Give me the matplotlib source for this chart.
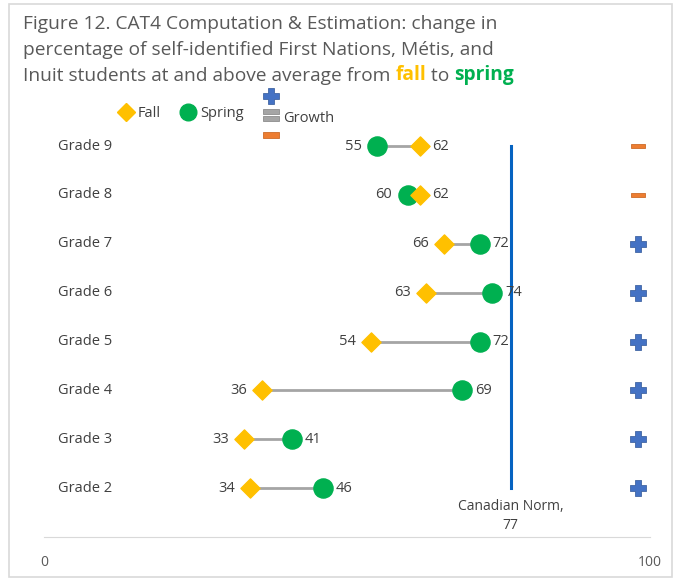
import matplotlib.pyplot as plt
from matplotlib.lines import Line2D
from matplotlib.patches import Rectangle
from matplotlib.path import Path
from matplotlib.legend_handler import HandlerBase

plt.rcParams['font.family'] = ['Open Sans', 'DejaVu Sans']

grades = ["Grade 2", "Grade 3", "Grade 4", "Grade 5", "Grade 6", "Grade 7", "Grade 8", "Grade 9"]
fall = [34, 33, 36, 54, 63, 66, 62, 62]
spring = [46, 41, 69, 72, 74, 72, 60, 55]
growth = ["+", "+", "+", "+", "+", "+", "-", "-"]
canadian_norm = 77
growth_x = 98

txt_col = "#404040"
fall_col = "#FFC000"
spring_col = "#00B050"
plus_col = "#4472C4"
minus_col = "#ED7D31"

# custom markers for the growth column
minus_mark = Path([(-1, -0.35), (1, -0.35), (1, 0.35), (-1, 0.35), (-1, -0.35)],
                  [Path.MOVETO, Path.LINETO, Path.LINETO, Path.LINETO, Path.CLOSEPOLY])
eq_mark = Path([(-1, 0.15), (1, 0.15), (1, 0.75), (-1, 0.75), (-1, 0.15),
                (-1, -0.75), (1, -0.75), (1, -0.15), (-1, -0.15), (-1, -0.75)],
               [Path.MOVETO, Path.LINETO, Path.LINETO, Path.LINETO, Path.CLOSEPOLY,
                Path.MOVETO, Path.LINETO, Path.LINETO, Path.LINETO, Path.CLOSEPOLY])

fig = plt.figure(figsize=(6.78, 5.79), dpi=100)
fig.patches.append(Rectangle((0.0133, 0.0035), 0.978, 0.9896, transform=fig.transFigure,
                             fill=False, edgecolor="#D9D9D9", linewidth=1.2))
ax = fig.add_axes([0.0649, 0.0725, 0.8938, 0.7173])

ypos = list(range(1, len(grades) + 1))

for i in range(len(grades)):
    ax.plot([fall[i], spring[i]], [ypos[i], ypos[i]], color="#A5A5A5", lw=2, zorder=1)

ax.scatter(fall, ypos, marker="D", s=95, color=fall_col, zorder=3)
ax.scatter(spring, ypos, marker="o", s=190, color=spring_col, zorder=2)

for i in range(len(grades)):
    lo, hi = min(fall[i], spring[i]), max(fall[i], spring[i])
    ax.annotate(str(lo), (lo, ypos[i]), xytext=(-11, 0), textcoords="offset points",
                ha="right", va="center", fontsize=10.5, color=txt_col)
    ax.annotate(str(hi), (hi, ypos[i]), xytext=(9, 0), textcoords="offset points",
                ha="left", va="center", fontsize=10.5, color=txt_col)
    ax.text(2.3, ypos[i], grades[i], ha="left", va="center", fontsize=10.5, color=txt_col)
    if growth[i] == "+":
        ax.scatter(growth_x, ypos[i], marker="P", s=130, color=plus_col,
                   edgecolor="#2F5597", linewidth=0.5, zorder=3)
    else:
        ax.scatter(growth_x, ypos[i], marker=minus_mark, s=100, color=minus_col,
                   edgecolor="#C55A11", linewidth=0.5, zorder=3)

# Canadian norm line
ax.plot([canadian_norm, canadian_norm], [1, 8], color="#0563C1", lw=2.2, zorder=1)
ax.annotate("Canadian Norm,\n77", (canadian_norm, 1), xytext=(0, -8), textcoords="offset points",
            ha="center", va="top", fontsize=10, color=txt_col, linespacing=1.35)

ax.set_xlim(0, 100)
ax.set_ylim(0, 8.5)
ax.set_xticks([0, 100])
ax.set_yticks([])
for s in ["top", "right", "left"]:
    ax.spines[s].set_visible(False)
ax.spines["bottom"].set_color("#D9D9D9")
ax.tick_params(axis="x", length=0, labelsize=10, labelcolor="#595959", pad=13)


class GrowthHandler(HandlerBase):
    def create_artists(self, legend, orig, xd, yd, w, h, fontsize, trans):
        cx = xd + w / 2
        cy = yd + h / 2 - 2.5
        arts = []
        for dy, mk, c, ec in [(14, "P", plus_col, "#2F5597"), (0, eq_mark, "#A5A5A5", "#7F7F7F"),
                              (-14, minus_mark, minus_col, "#C55A11")]:
            ln = Line2D([cx], [cy + dy], marker=mk, markersize=11, color=c,
                        markeredgecolor=ec, markeredgewidth=0.5, linestyle="none")
            ln.set_transform(trans)
            arts.append(ln)
        return arts


h_fall = Line2D([], [], marker="D", color=fall_col, markersize=9, linestyle="none")
h_spring = Line2D([], [], marker="o", color=spring_col, markersize=12, linestyle="none")
h_growth = Line2D([], [])
leg = fig.legend([h_fall, h_spring, h_growth], ["Fall", "Spring", "Growth"],
                 handler_map={h_growth: GrowthHandler()}, ncol=3, frameon=False,
                 loc="center left", bbox_to_anchor=(0.155, 0.804),
                 fontsize=10.5, handlelength=1.0, handletextpad=0.35, columnspacing=1.35)
for t in leg.get_texts():
    t.set_color(txt_col)
leg.get_texts()[2].set_y(-5)

# title, last line with coloured words
tcol = "#595959"
tsize = 13.8
fig.text(0.034, 0.9585, "Figure 12. CAT4 Computation & Estimation: change in",
         fontsize=tsize, color=tcol, va="center")
fig.text(0.034, 0.9135, "percentage of self-identified First Nations, Métis, and",
         fontsize=tsize, color=tcol, va="center")
t1 = fig.text(0.034, 0.8685, "Inuit students at and above average from ",
              fontsize=tsize, color=tcol, va="center")
t2 = fig.text(0, 0, "fall", fontsize=tsize, color=fall_col, fontweight="bold", va="bottom")
t3 = fig.text(0, 0, " to ", fontsize=tsize, color=tcol, va="bottom")
t4 = fig.text(0, 0, "spring", fontsize=tsize, color=spring_col, fontweight="bold", va="bottom")
fig.canvas.draw()
r = fig.canvas.get_renderer()
prev = t1
for t in [t2, t3, t4]:
    bb = prev.get_window_extent(r).transformed(fig.transFigure.inverted())
    t.set_position((bb.x1, bb.y0))
    prev = t
    fig.canvas.draw()

fig.savefig("out.png", dpi=100)
